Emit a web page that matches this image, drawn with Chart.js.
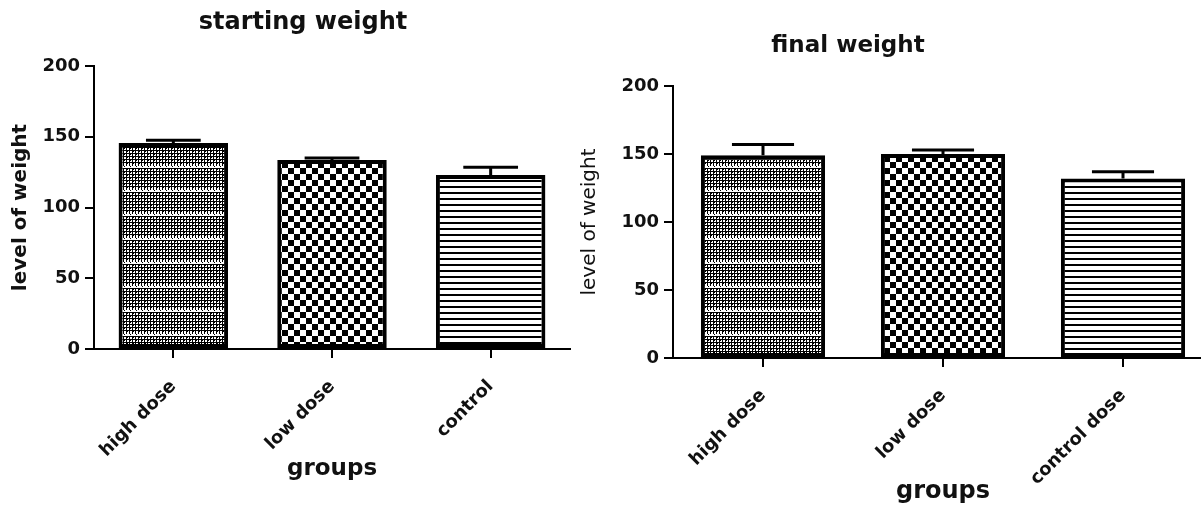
<!DOCTYPE html>
<html>
<head>
<meta charset="utf-8">
<script src="https://cdn.jsdelivr.net/npm/chart.js@4"></script>
<style>
  html, body { margin: 0; padding: 0; background: #fff; overflow: hidden; }
  #startChart { position: absolute; left: 0; top: 0; }
  #finalChart { position: absolute; left: 560px; top: 0; }
</style>
</head>
<body>
<canvas id="startChart" width="600" height="506"></canvas>
<canvas id="finalChart" width="680" height="506"></canvas>
<script>
// values
const startGroups = ["high dose", "low dose", "control"];
const startMeans = [145.5, 133.5, 123];
const startErrors = [2, 1.5, 5.5];

const finalGroups = ["high dose", "low dose", "control dose"];
const finalMeans = [149, 150, 132];
const finalErrors = [8, 3, 5];

const yTicks = [0, 50, 100, 150, 200];

const FONT = "DejaVu Sans";
const INK = "#111";

// black & white fill patterns like the original graph
function makePattern(kind) {
  var c = document.createElement("canvas");
  var g = c.getContext("2d");
  if (kind === "fine") {
    c.width = 6; c.height = 24;
    g.fillStyle = "#fff"; g.fillRect(0, 0, 6, 24);
    g.fillStyle = "#000";
    for (var y = 0; y < 21; y += 3) g.fillRect(0, y, 6, 1);
    g.fillRect(0, 0, 1, 22);
    g.fillRect(3, 0, 1, 22);
    for (var k = 0; k < 21; k += 6) {
      g.fillRect(1, k + 1, 1, 1);
      g.fillRect(4, k + 4, 1, 1);
    }
  } else if (kind === "checker") {
    c.width = 12; c.height = 12;
    g.fillStyle = "#fff"; g.fillRect(0, 0, 12, 12);
    g.fillStyle = "#000";
    g.fillRect(0, 0, 6, 6);
    g.fillRect(6, 6, 6, 6);
  } else {
    c.width = 4; c.height = 6;
    g.fillStyle = "#fff"; g.fillRect(0, 0, 4, 6);
    g.fillStyle = "#000"; g.fillRect(0, 0, 4, 2);
  }
  return g.createPattern(c, "repeat");
}
const fills = [makePattern("fine"), makePattern("checker"), makePattern("stripes")];

// error bars (upper half only, as in the original)
const errorBars = {
  id: "errorBars",
  afterDatasetsDraw(chart, args, opts) {
    const meta = chart.getDatasetMeta(0);
    const y = chart.scales.y;
    const data = chart.data.datasets[0].data;
    const ctx = chart.ctx;
    ctx.save();
    ctx.strokeStyle = "#000";
    ctx.lineWidth = 3;
    meta.data.forEach(function(bar, i) {
      const top = y.getPixelForValue(data[i] + opts.errors[i]);
      const half = bar.width * 0.25;
      ctx.beginPath();
      ctx.moveTo(bar.x, bar.y);
      ctx.lineTo(bar.x, top);
      ctx.moveTo(bar.x - half, top);
      ctx.lineTo(bar.x + half, top);
      ctx.stroke();
    });
    ctx.restore();
  }
};

// panel heading, placed where the original has it
const heading = {
  id: "heading",
  afterDraw(chart, args, opts) {
    const ctx = chart.ctx;
    ctx.save();
    ctx.font = "bold " + opts.size + "px '" + FONT + "'";
    ctx.fillStyle = INK;
    ctx.textAlign = "center";
    ctx.textBaseline = "middle";
    ctx.fillText(opts.text, opts.x, opts.y);
    ctx.restore();
  }
};

function makeChart(id, cfg) {
  const ctx = document.getElementById(id).getContext("2d");
  return new Chart(ctx, {
    type: "bar",
    data: {
      labels: cfg.labels,
      datasets: [{
        data: cfg.values,
        backgroundColor: fills,
        borderColor: "#000",
        borderWidth: 4,
        borderSkipped: false,
        categoryPercentage: 1,
        barPercentage: 0.69
      }]
    },
    plugins: [errorBars, heading],
    options: {
      responsive: false,
      animation: false,
      devicePixelRatio: 1,
      layout: { padding: { left: 0, top: cfg.top, right: cfg.right, bottom: 0 } },
      plugins: {
        legend: { display: false },
        tooltip: { enabled: false },
        errorBars: { errors: cfg.errors },
        heading: { text: cfg.title, x: cfg.titleX, y: cfg.titleY, size: cfg.titleSize }
      },
      scales: {
        x: {
          afterFit: function(s) { s.height = cfg.xHeight; },
          grid: { offset: false, drawOnChartArea: false, tickLength: 9, color: "#000", lineWidth: 2 },
          border: { color: "#000", width: 2 },
          ticks: {
            minRotation: 45, maxRotation: 45, padding: 18, color: INK,
            font: { family: FONT, size: 18, weight: "bold" }
          },
          title: {
            display: true, text: "groups", color: INK,
            font: { family: FONT, size: cfg.xTitleSize, weight: "bold" },
            padding: { top: 0, bottom: cfg.xTitlePad }
          }
        },
        y: {
          min: 0, max: 200,
          afterFit: function(s) { s.width = cfg.yWidth; },
          afterBuildTicks: function(s) { s.ticks = yTicks.map(function(v) { return { value: v }; }); },
          grid: { drawOnChartArea: false, tickLength: 9, color: "#000", lineWidth: 2 },
          border: { color: "#000", width: 2 },
          ticks: {
            padding: 5, color: INK,
            font: { family: FONT, size: 18, weight: "bold" }
          },
          title: {
            display: true, text: "level of weight", color: INK,
            font: { family: FONT, size: cfg.yTitleSize, weight: cfg.yTitleWeight },
            padding: { top: cfg.yTitlePad, bottom: 0 }
          }
        }
      }
    }
  });
}

makeChart("startChart", {
  labels: startGroups, values: startMeans, errors: startErrors,
  title: "starting weight", titleX: 303, titleY: 23, titleSize: 24,
  top: 66, right: 30, xHeight: 157, yWidth: 94,
  xTitleSize: 23, xTitlePad: 23,
  yTitleSize: 20, yTitleWeight: "bold", yTitlePad: 9
});

makeChart("finalChart", {
  labels: finalGroups, values: finalMeans, errors: finalErrors,
  title: "final weight", titleX: 288, titleY: 46, titleSize: 23,
  top: 86, right: 27, xHeight: 148, yWidth: 113,
  xTitleSize: 24, xTitlePad: 0,
  yTitleSize: 20, yTitleWeight: "normal", yTitlePad: 18
});
</script>
</body>
</html>
